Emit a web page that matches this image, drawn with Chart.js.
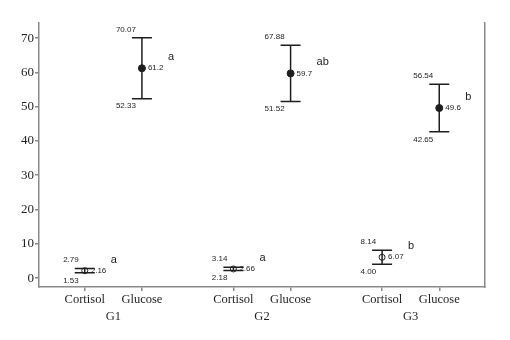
<!DOCTYPE html>
<html>
<head>
<meta charset="utf-8">
<script src="https://cdn.jsdelivr.net/npm/chart.js@4.4.0/dist/chart.umd.min.js"></script>
<style>
  html, body { margin: 0; padding: 0; background: #fff; }
</style>
</head>
<body>
<canvas id="meanChart" width="510" height="340"></canvas>
<script>
// Groups and measures
const groups = ['G1', 'G2', 'G3'];
const measures = ['Cortisol', 'Glucose'];

// x value of each mean on the linear x scale (Cortisol, Glucose for each group)
const xSlots = [1, 2, 3.6, 4.6, 6.2, 7.2];
const groupCenters = [1.5, 4.1, 6.7];

// Mean and 95% CI bounds
const means = [2.16, 61.2, 2.66, 59.7, 6.07, 49.6];
const upper = [2.79, 70.07, 3.14, 67.88, 8.14, 56.54];
const lower = [1.53, 52.33, 2.18, 51.52, 4.00, 42.65];
const letters = ['a', 'a', 'a', 'ab', 'b', 'b'];

const yTicks = [0, 10, 20, 30, 40, 50, 60, 70];

const serif = "'Liberation Serif', 'Times New Roman', serif";
const sans = "'Liberation Sans', Arial, sans-serif";
const axisGray = '#8a8a8a';
const ink = '#1e1e1e';

// Draws the error bars and the value labels
const errorBars = {
    id: 'errorBars',
    beforeDatasetsDraw(chart) {
        const { ctx, scales: { x, y } } = chart;
        ctx.save();
        ctx.strokeStyle = ink;
        ctx.lineWidth = 1.5;
        xSlots.forEach((v, i) => {
            const px = x.getPixelForValue(v);
            const top = y.getPixelForValue(upper[i]);
            const bot = y.getPixelForValue(lower[i]);
            ctx.beginPath();
            ctx.moveTo(px, top);
            ctx.lineTo(px, bot);
            ctx.moveTo(px - 10, top);
            ctx.lineTo(px + 10, top);
            ctx.moveTo(px - 10, bot);
            ctx.lineTo(px + 10, bot);
            ctx.stroke();
        });
        ctx.restore();
    },
    afterDatasetsDraw(chart) {
        const { ctx, scales: { x, y } } = chart;
        ctx.save();
        ctx.fillStyle = ink;
        ctx.textBaseline = 'middle';
        xSlots.forEach((v, i) => {
            const px = x.getPixelForValue(v);
            const top = y.getPixelForValue(upper[i]);
            const bot = y.getPixelForValue(lower[i]);
            const mid = y.getPixelForValue(means[i]);

            ctx.font = '8px ' + sans;
            ctx.textAlign = 'right';
            ctx.fillText(upper[i].toFixed(2), px - 6, top - 8.5);
            ctx.fillText(lower[i].toFixed(2), px - 6, bot + 7.5);
            ctx.textAlign = 'left';
            ctx.fillText(String(means[i]), px + 6, mid);

            ctx.font = '11px ' + sans;
            ctx.fillText(letters[i], px + 26, mid - 11);
        });
        ctx.restore();
    }
};

const ctx = document.getElementById('meanChart').getContext('2d');
new Chart(ctx, {
    type: 'scatter',
    data: {
        datasets: [{
            data: xSlots.map((v, i) => ({ x: v, y: means[i] })),
            pointRadius: xSlots.map((v, i) => i % 2 === 0 ? 3 : 3.5),
            pointBackgroundColor: xSlots.map((v, i) => i % 2 === 0 ? 'rgba(0,0,0,0)' : ink),
            pointBorderColor: ink,
            pointBorderWidth: 1
        }]
    },
    options: {
        responsive: false,
        animation: false,
        layout: { padding: { top: 23, left: 0, right: 0, bottom: 0 } },
        plugins: {
            legend: { display: false },
            tooltip: { enabled: false }
        },
        scales: {
            x: {
                type: 'linear',
                position: 'bottom',
                weight: 0,
                min: 0.2,
                max: 8.0,
                grid: { drawOnChartArea: false, tickLength: 4, color: axisGray, lineWidth: 1.5 },
                border: { color: axisGray, width: 1.5 },
                afterBuildTicks: axis => { axis.ticks = xSlots.map(v => ({ value: v })); },
                ticks: {
                    autoSkip: false,
                    maxRotation: 0,
                    padding: 1,
                    color: ink,
                    font: { family: serif, size: 12.5 },
                    callback: (value, index) => measures[index % 2]
                },
                afterFit: axis => { axis.height = 21; }
            },
            xGroup: {
                type: 'linear',
                axis: 'x',
                position: 'bottom',
                weight: 1,
                min: 0.2,
                max: 8.0,
                grid: { display: false, drawTicks: false },
                border: { display: false },
                afterBuildTicks: axis => { axis.ticks = groupCenters.map(v => ({ value: v })); },
                ticks: {
                    autoSkip: false,
                    maxRotation: 0,
                    padding: 1,
                    color: ink,
                    font: { family: serif, size: 12.5 },
                    callback: (value, index) => groups[index]
                },
                afterFit: axis => { axis.height = 32; }
            },
            y: {
                type: 'linear',
                position: 'left',
                min: -2.6,
                max: 74.4,
                grid: { drawOnChartArea: false, tickLength: 4, color: axisGray, lineWidth: 1.5 },
                border: { color: axisGray, width: 1.5 },
                afterBuildTicks: axis => { axis.ticks = yTicks.map(v => ({ value: v })); },
                ticks: {
                    padding: 1,
                    color: ink,
                    font: { family: serif, size: 13 }
                },
                afterFit: axis => { axis.width = 39; }
            },
            yRight: {
                type: 'linear',
                axis: 'y',
                position: 'right',
                min: -2.6,
                max: 74.4,
                grid: { display: false },
                border: { color: axisGray, width: 1.5 },
                ticks: { display: false },
                afterFit: axis => { axis.width = 25; }
            }
        }
    },
    plugins: [errorBars]
});
</script>
</body>
</html>
